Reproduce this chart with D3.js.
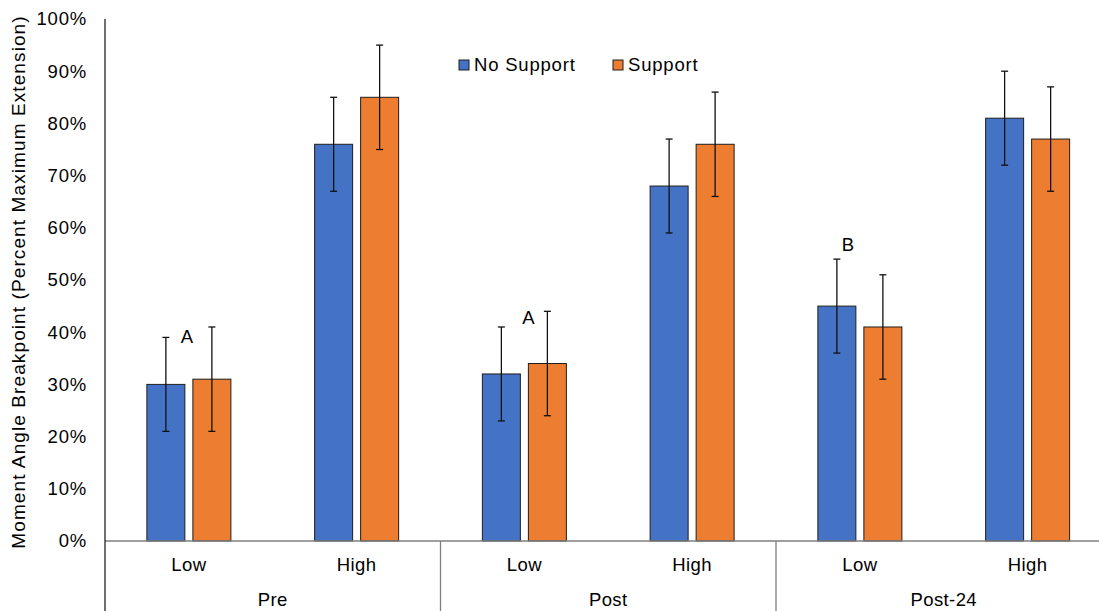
<!DOCTYPE html>
<html>
<head>
<meta charset="utf-8">
<script src="https://cdn.jsdelivr.net/npm/d3@7"></script>
<style>
  html, body { margin: 0; padding: 0; background: #fff; }
  svg { display: block; font-family: "Liberation Sans", Arial, sans-serif; }
</style>
</head>
<body>
<svg id="chart" width="1099" height="611"></svg>
<script>
// Phases, intensity levels and support conditions
const phases = ["Pre", "Post", "Post-24"];
const levels = ["Low", "High"];
const series = ["No Support", "Support"];

// Mean breakpoint (% of maximum extension), ordered phase x level
const noSupport = [30, 76, 32, 68, 45, 81];
const support   = [31, 85, 34, 76, 41, 77];
// Error bar half-widths (same ordering)
const noSupportErr = [9, 9, 9, 9, 9, 9];
const supportErr   = [10, 10, 10, 10, 10, 10];

// Significance letters: phase, level, letter, height in % units
const letterPhase = ["Pre", "Post", "Post-24"];
const letterLevel = ["Low", "Low", "Low"];
const letterText  = ["A", "A", "B"];
const letterValue = [38, 41.5, 55.6];

const yTicks = [0, 10, 20, 30, 40, 50, 60, 70, 80, 90, 100];

const colors = { "No Support": "#4472C4", "Support": "#ED7D31" };

const svg = d3.select("#chart");
const plotLeft = 105, plotTop = 19, plotBottom = 541;
const groupWidth = 335.5;
// horizontal nudges of the letter labels from their category centre
const letterNudge = [-2, 4, -12];

const y = d3.scaleLinear().domain([0, 100]).range([plotBottom, plotTop]);
const x0 = d3.scaleBand().domain(phases).range([plotLeft, plotLeft + groupWidth * phases.length]);
const x1 = d3.scaleBand().domain(levels).range([0, x0.bandwidth()]);
const x2 = d3.scaleBand().domain(series).range([0, x1.bandwidth()])
  .paddingInner(0.174).paddingOuter(0.91);

// Flat records built from the arrays
const rows = [];
phases.forEach((p, pi) => levels.forEach((l, li) => {
  const i = pi * levels.length + li;
  rows.push({ phase: p, level: l, series: "No Support", value: noSupport[i], err: noSupportErr[i] });
  rows.push({ phase: p, level: l, series: "Support", value: support[i], err: supportErr[i] });
}));
const xPos = d => x0(d.phase) + x1(d.level) + x2(d.series);

// Y axis
const yAxis = d3.axisLeft(y).tickValues(yTicks).tickSize(0).tickPadding(18)
  .tickFormat(d => d + "%");
const ya = svg.append("g").attr("transform", `translate(${plotLeft},0)`).call(yAxis);
ya.select(".domain").remove();
ya.selectAll("text").attr("font-size", 18.5).attr("fill", "#000")
  .attr("letter-spacing", 0.8)
  .attr("font-family", "Liberation Sans, Arial, sans-serif");

// Bars
svg.append("g").selectAll("rect").data(rows).join("rect")
  .attr("x", xPos)
  .attr("y", d => y(d.value))
  .attr("width", x2.bandwidth())
  .attr("height", d => y(0) - y(d.value))
  .attr("fill", d => colors[d.series])
  .attr("stroke", "#1e1e1e")
  .attr("stroke-width", 1);

// Error bars
const eb = svg.append("g").attr("stroke", "#111").attr("stroke-width", 1.3);
rows.forEach(d => {
  const cx = xPos(d) + x2.bandwidth() / 2;
  const y1 = y(d.value + d.err), y2 = y(d.value - d.err);
  eb.append("line").attr("x1", cx).attr("x2", cx).attr("y1", y1).attr("y2", y2);
  eb.append("line").attr("x1", cx - 3.5).attr("x2", cx + 3.5).attr("y1", y1).attr("y2", y1);
  eb.append("line").attr("x1", cx - 3.5).attr("x2", cx + 3.5).attr("y1", y2).attr("y2", y2);
});

// Axis lines and group separators
svg.append("line").attr("x1", plotLeft).attr("x2", 1099).attr("y1", y(0)).attr("y2", y(0))
  .attr("stroke", "#7f7f7f").attr("stroke-width", 1.3);
svg.append("line").attr("x1", plotLeft).attr("x2", plotLeft).attr("y1", plotTop).attr("y2", 611)
  .attr("stroke", "#222").attr("stroke-width", 1.3);
phases.slice(1).forEach(p => {
  svg.append("line").attr("x1", x0(p)).attr("x2", x0(p)).attr("y1", y(0)).attr("y2", 611)
    .attr("stroke", "#7f7f7f").attr("stroke-width", 1.3);
});

// Category labels
const lab = svg.append("g").attr("font-size", 18.5).attr("letter-spacing", 0.4)
  .attr("text-anchor", "middle").attr("fill", "#000");
phases.forEach(p => {
  levels.forEach(l => {
    lab.append("text").attr("x", x0(p) + x1(l) + x1.bandwidth() / 2).attr("y", 571).text(l);
  });
  lab.append("text").attr("x", x0(p) + x0.bandwidth() / 2).attr("y", 606).text(p);
});

// Significance letters
letterText.forEach((t, i) => {
  svg.append("text")
    .attr("x", x0(letterPhase[i]) + x1(letterLevel[i]) + x1.bandwidth() / 2 + letterNudge[i])
    .attr("y", y(letterValue[i]))
    .attr("text-anchor", "middle").attr("font-size", 18.5).attr("fill", "#000")
    .text(t);
});

// Y axis title
svg.append("text")
  .attr("transform", `translate(25,${(plotTop + plotBottom) / 2 + 2}) rotate(-90)`)
  .attr("text-anchor", "middle").attr("font-size", 19).attr("letter-spacing", 1.1)
  .attr("fill", "#000")
  .text("Moment Angle Breakpoint (Percent Maximum Extension)");

// Legend
const legend = svg.append("g").attr("font-size", 18.5).attr("letter-spacing", 0.8);
const legendX = [459, 613];
series.forEach((s, i) => {
  legend.append("rect").attr("x", legendX[i]).attr("y", 60).attr("width", 10).attr("height", 10)
    .attr("fill", colors[s]).attr("stroke", "#1e1e1e").attr("stroke-width", 1);
  legend.append("text").attr("x", legendX[i] + 15).attr("y", 71).attr("fill", "#000").text(s);
});
</script>
</body>
</html>
